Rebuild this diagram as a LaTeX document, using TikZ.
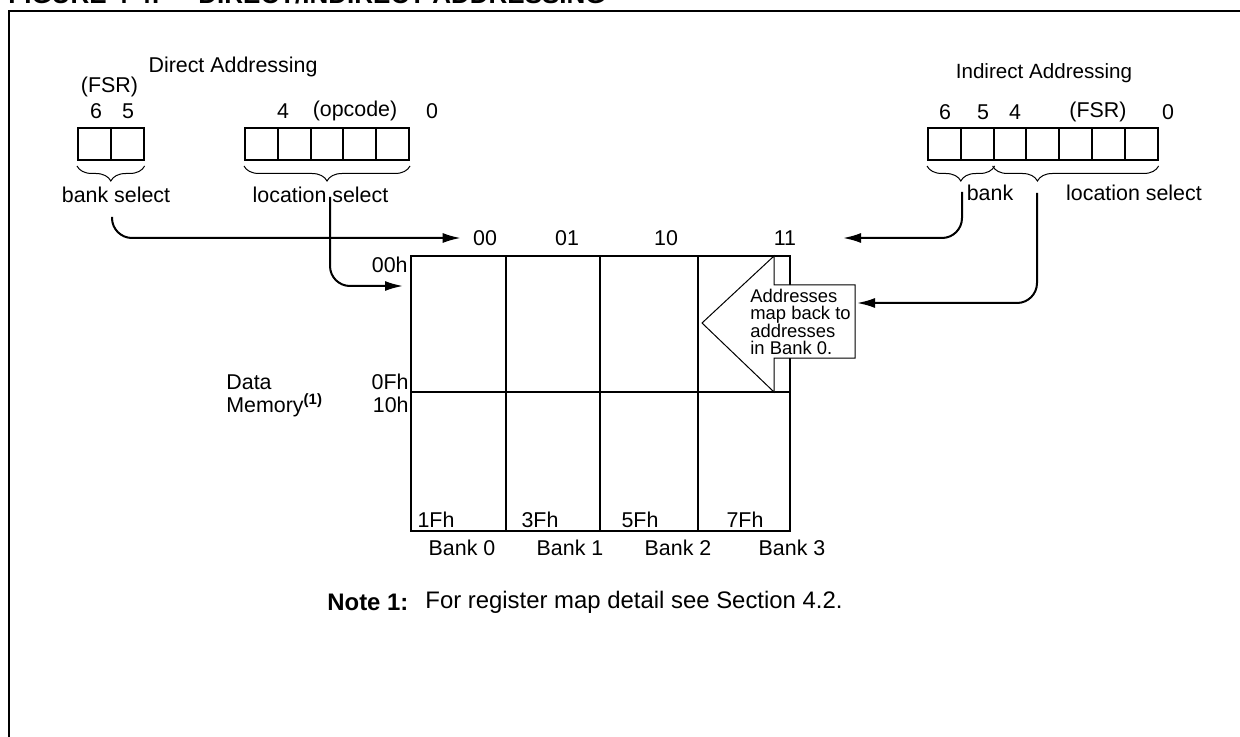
\documentclass[tikz,border=0pt]{standalone}
\usepackage{fontspec}
\setmainfont{Liberation Sans}
\usetikzlibrary{arrows.meta,decorations.pathreplacing,positioning}

\begin{document}
\begin{tikzpicture}[x=0.5pt,y=-0.5pt,
		txt/.style={inner sep=0pt,font=\fontsize{10.7}{12.8}\selectfont},
		ttl/.style={anchor=base west,inner sep=0pt,font=\bfseries\fontsize{13}{15}\selectfont},
		bit/.style={draw,line width=1pt,minimum width=16.4pt,minimum height=16pt,inner sep=0pt},
		brc/.style={decorate,decoration={brace,mirror,amplitude=7.5pt},line width=0.5pt},
		wire/.style={line width=1pt,rounded corners=10pt,-{Latex[length=9pt,width=5pt]}}]
			\useasboundingbox (0,0) rectangle (1240,737);
			\draw [line width=1pt] (8.5,760) -- (8.5,11.5) -- (1260,11.5);
			\node [ttl] (fig) at (8,4) {FIGURE 4-4:};
			\node [ttl] (title) at (198,4) {DIRECT/INDIRECT ADDRESSING};
			\node [txt] (dir) at (233,67) {Direct Addressing};
			\node [txt] (fsr) at (109.5,87) {(FSR)};
			\node [txt] (d6) at (96,111) {6};
			\node [txt] (d5) at (128,111) {5};
			\node [txt] (d4) at (283,111) {4};
			\node [txt] (opc) at (355,111) {(opcode)};
			\node [txt] (d0) at (432,111) {0};
			\foreach \i in {0,1}
				\node [bit] (fb\i) at ({94.4+32.8*\i},144) {};
			\foreach \i in {0,...,4}
				\node [bit] (op\i) at ({261.4+32.8*\i},144) {};
			\draw [brc] ([yshift=-2.5pt]fb0.south west) -- ([yshift=-2.5pt]fb1.south east);
			\draw [brc] ([yshift=-2.5pt]op0.south west) -- ([yshift=-2.5pt]op4.south east);
			\node [txt] (bsel) at (116,195) {bank select};
			\node [txt] (lsel) at (320.5,195) {location select};
			\node [txt,font=\fontsize{10.3}{12.4}\selectfont] (ind) at (1044,73) {Indirect Addressing};
			\node [txt] (i6) at (945,112) {6};
			\node [txt] (i5) at (983,112) {5};
			\node [txt] (i4) at (1015,112) {4};
			\node [txt] (ifsr) at (1098,112) {(FSR)};
			\node [txt] (i0) at (1168,112) {0};
			\foreach \i in {0,...,6}
				\node [bit] (ir\i) at ({944.4+32.8*\i},144) {};
			\draw [brc] ([yshift=-2.5pt]ir0.south west) -- ([yshift=-2.5pt]ir1.south east);
			\draw [brc,decoration={aspect=0.27}] ([yshift=-2.5pt]ir2.south west) -- ([yshift=-2.5pt]ir6.south east);
			\node [txt] (ibank) at (990,193) {bank};
			\node [txt] (iloc) at (1134,193) {location select};
			\draw [line width=1pt] (411,256) rectangle (790,531);
			\foreach \x in {506,600,698}
				\draw [line width=1pt] (\x,256) -- (\x,531);
			\draw [line width=1pt] (411,392) -- (790,392);
			\node [txt] (c00) at (485,238) {00};
			\node [txt] (c01) at (567,238) {01};
			\node [txt] (c10) at (666,238) {10};
			\node [txt] (c11) at (785,238) {11};
			\node [txt,anchor=east] (h00) at (408,265) {00h};
			\node [txt,anchor=east] (h0f) at (409,382) {0Fh};
			\node [txt,anchor=east] (h10) at (409,405) {10h};
			\node [txt,anchor=west] (data) at (226,382) {Data};
			\node [txt,anchor=west] (mem) at (226,405) {Memory\textsuperscript{\bfseries(1)}};
			\node [txt] (f1) at (436,520) {1Fh};
			\node [txt] (f3) at (540,520) {3Fh};
			\node [txt] (f5) at (640,520) {5Fh};
			\node [txt] (f7) at (745,520) {7Fh};
			\node [txt] (bk0) at (462,548) {Bank 0};
			\node [txt] (bk1) at (570,548) {Bank 1};
			\node [txt] (bk2) at (678,548) {Bank 2};
			\node [txt] (bk3) at (792,548) {Bank 3};
			\draw [line width=0.5pt,fill=white] (774,256) -- (702,323) -- (774,392) -- (774,358)
				-- (855,358) -- (855,285) -- (774,285) -- cycle;
			\node [inner sep=0pt,anchor=west,align=left,font=\fontsize{9.2}{8.65}\selectfont] (back) at (750,322)
				{Addresses\\map back to\\addresses\\in Bank 0.};
			\coordinate (dbk) at (112,217);
			\coordinate (dls) at (330,197);
			\coordinate (m00) at (403,286);
			\coordinate (ibk) at (962,192);
			\coordinate (b11) at (843,238);
			\coordinate (ils) at (1037,193);
			\coordinate (cb) at (857,303);
			\draw [wire,shorten >=6pt] (dbk) |- (c00.west);
			\draw [wire] (dls) |- (m00);
			\draw [wire] (ibk) |- (b11);
			\draw [wire] (ils) |- (cb);
			\node [txt,anchor=west,font=\bfseries\fontsize{11.95}{14}\selectfont] (note) at (327,602) {Note 1:};
			\node [txt,anchor=west,font=\fontsize{11.95}{14}\selectfont] (notetxt) at (425,602) {For register map detail see Section 4.2.};
		\end{tikzpicture}
\end{document}
